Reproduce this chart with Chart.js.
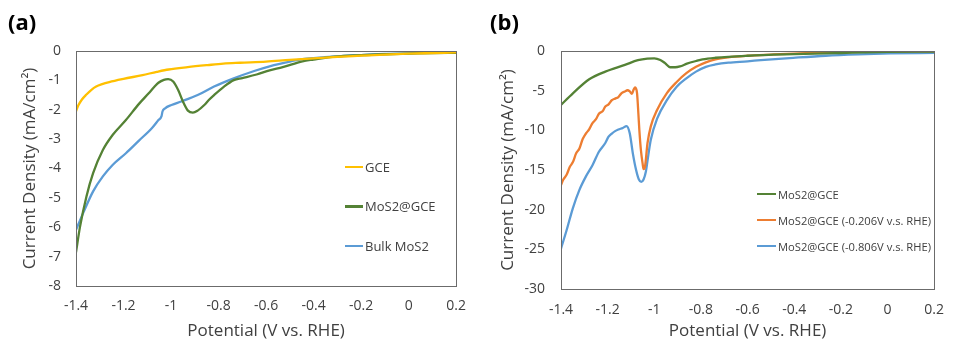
<!DOCTYPE html>
<html lang="en">
<head>
  <meta charset="UTF-8" />
  <title>LSV curves - MoS2@GCE</title>
  <script src="https://cdn.jsdelivr.net/npm/chart.js"></script>
  <style>
    body {
      margin: 0;
      background: #fff;
      font-family: 'Open Sans', sans-serif;
    }
    #wrap {
      position: relative;
      width: 957px;
      height: 340px;
    }
    .panel {
      position: absolute;
      top: 0;
      height: 340px;
    }
    .tag {
      position: absolute;
      top: 6px;
      font-weight: 700;
      font-size: 22px;
      color: #000;
    }
    .legend {
      position: absolute;
      color: #404040;
    }
    .legend .item {
      display: flex;
      align-items: center;
    }
    .legend .swatch {
      display: inline-block;
      height: 2.5px;
      margin-right: 2px;
    }
  </style>
</head>
<body>
  <div id="wrap">
    <div class="panel" style="left:0;width:478px">
      <canvas id="chartA" width="478" height="340"></canvas>
      <div class="tag" style="left:8px">(a)</div>
      <div class="legend" id="legA" style="left:345px;top:147px;font-size:13px"></div>
    </div>
    <div class="panel" style="left:477px;width:480px">
      <canvas id="chartB" width="480" height="340"></canvas>
      <div class="tag" style="left:13px">(b)</div>
      <div class="legend" id="legB" style="left:280px;top:181px;font-size:11.2px"></div>
    </div>
  </div>

  <script>
    // ---- ticks ----
    const potTicks = [-1.4, -1.2, -1, -0.8, -0.6, -0.4, -0.2, 0, 0.2];
    const curTicksA = [0, -1, -2, -3, -4, -5, -6, -7, -8];
    const curTicksB = [0, -5, -10, -15, -20, -25, -30];

    // ---- panel (a) ----
    const labelsA = ["GCE", "MoS2@GCE", "Bulk MoS2"];

    const gceV = [-1.4, -1.39, -1.375, -1.356, -1.335, -1.315, -1.29, -1.26, -1.2, -1.12, -1.06, -1.01, -0.93, -0.846, -0.78, -0.71, -0.6, -0.5, -0.4, -0.3, -0.2, -0.1, 0, 0.1, 0.2];
    const gceJ = [-2.05, -1.85, -1.65, -1.48, -1.32, -1.21, -1.13, -1.06, -0.95, -0.82, -0.71, -0.63, -0.55, -0.48, -0.43, -0.4, -0.36, -0.3, -0.25, -0.2, -0.16, -0.12, -0.09, -0.07, -0.05];

    const mosV = [-1.4, -1.383, -1.356, -1.328, -1.287, -1.246, -1.19, -1.135, -1.094, -1.07, -1.053, -1.03, -1.012, -0.991, -0.97, -0.95, -0.929, -0.908, -0.888, -0.86, -0.84, -0.819, -0.777, -0.736, -0.7, -0.64, -0.585, -0.53, -0.447, -0.4, -0.309, -0.2, -0.1, 0, 0.1, 0.2];
    const mosJ = [-6.85, -5.98, -4.95, -4.16, -3.37, -2.86, -2.35, -1.8, -1.44, -1.22, -1.08, -0.98, -0.96, -1.04, -1.33, -1.72, -2.03, -2.1, -2.03, -1.84, -1.66, -1.5, -1.21, -0.99, -0.92, -0.8, -0.66, -0.55, -0.35, -0.29, -0.19, -0.14, -0.11, -0.09, -0.07, -0.06];

    const bulkV = [-1.4, -1.37, -1.328, -1.287, -1.246, -1.19, -1.135, -1.08, -1.053, -1.04, -1.036, -1.025, -0.998, -0.957, -0.888, -0.819, -0.736, -0.65, -0.585, -0.5, -0.447, -0.4, -0.3, -0.2, -0.1, 0, 0.1, 0.2];
    const bulkJ = [-6.09, -5.52, -4.78, -4.27, -3.88, -3.48, -3.05, -2.62, -2.35, -2.22, -2.06, -1.95, -1.84, -1.72, -1.5, -1.21, -0.93, -0.68, -0.52, -0.36, -0.28, -0.24, -0.18, -0.14, -0.1, -0.08, -0.05, -0.04];

    // ---- panel (b) ----
    const labelsB = ["MoS2@GCE", "MoS2@GCE (-0.206V v.s. RHE)", "MoS2@GCE (-0.806V v.s. RHE)"];

    const mosBV = [-1.4, -1.349, -1.279, -1.21, -1.126, -1.07, -1.03, -1.0, -0.974, -0.955, -0.932, -0.91, -0.89, -0.86, -0.821, -0.793, -0.7375, -0.6, -0.4, -0.2, 0, 0.2];
    const mosBJ = [-6.8, -5.34, -3.57, -2.6, -1.75, -1.15, -0.95, -0.92, -1.13, -1.5, -2.05, -2.05, -1.95, -1.6, -1.26, -1.05, -0.85, -0.6, -0.4, -0.25, -0.12, -0.08];

    const v206V = [-1.4, -1.39, -1.376, -1.362, -1.349, -1.335, -1.321, -1.307, -1.293, -1.28, -1.265, -1.25, -1.2375, -1.222, -1.21, -1.195, -1.182, -1.168, -1.154, -1.14, -1.126, -1.115, -1.105, -1.096, -1.089, -1.082, -1.074, -1.068, -1.064, -1.057, -1.05, -1.046, -1.04, -1.029, -1.015, -0.9875, -0.946, -0.904, -0.8625, -0.821, -0.779, -0.7375, -0.683, -0.6, -0.5, -0.404, -0.3, -0.2, -0.126, 0, 0.2];
    const v206J = [-16.9, -16.2, -15.6, -14.6, -14.0, -12.9, -12.3, -11.1, -10.4, -9.9, -9.1, -8.6, -7.9, -7.6, -7.0, -6.7, -6.2, -6.0, -5.8, -5.3, -5.1, -4.95, -5.1, -5.4, -4.9, -4.6, -5.3, -8.0, -10.0, -12.6, -14.2, -14.9, -14.6, -11.6, -9.5, -7.4, -5.3, -3.9, -2.8, -2.0, -1.43, -1.05, -0.8, -0.6, -0.45, -0.32, -0.22, -0.15, -0.1, -0.07, -0.05];

    const v806V = [-1.4, -1.376, -1.349, -1.321, -1.293, -1.265, -1.2375, -1.21, -1.196, -1.182, -1.168, -1.154, -1.135, -1.119, -1.105, -1.092, -1.078, -1.066, -1.056, -1.046, -1.036, -1.029, -1.015, -0.9875, -0.946, -0.904, -0.8625, -0.821, -0.779, -0.7375, -0.682, -0.6, -0.543, -0.404, -0.265, -0.126, 0.0125, 0.2];
    const v806J = [-24.9, -22.6, -19.8, -17.5, -15.8, -14.4, -12.7, -11.6, -10.8, -10.4, -10.1, -9.9, -9.7, -9.46, -10.4, -12.9, -15.0, -16.2, -16.5, -16.2, -15.2, -13.8, -11.2, -8.5, -6.2, -4.5, -3.45, -2.6, -2.0, -1.7, -1.47, -1.3, -1.15, -0.86, -0.6, -0.43, -0.31, -0.24];

    const GREEN = "#548235";
    const YELLOW = "#FFC000";
    const BLUE = "#5B9BD5";
    const ORANGE = "#ED7D31";

    const FONT = "'Open Sans', sans-serif";
    const TEXT = "#404040";

    function pts(xs, ys) {
      return xs.map((x, i) => ({ x: x, y: ys[i] }));
    }

    function line(label, xs, ys, color) {
      return {
        label: label,
        data: pts(xs, ys),
        borderColor: color,
        backgroundColor: color,
        borderWidth: 2.3,
        pointRadius: 0,
        fill: false,
        cubicInterpolationMode: "monotone"
      };
    }

    // box around the plot area
    const frame = {
      id: "frame",
      afterDatasetsDraw(chart) {
        const a = chart.chartArea;
        const ctx = chart.ctx;
        ctx.save();
        ctx.strokeStyle = "#6b6b6b";
        ctx.lineWidth = 1;
        ctx.strokeRect(Math.round(a.left) + 0.5, Math.round(a.top) + 0.5,
          Math.round(a.right - a.left), Math.round(a.bottom - a.top));
        ctx.restore();
      }
    };

    function crearGrafico(id, datasets, yTicks, dims) {
      return new Chart(document.getElementById(id), {
        type: "line",
        data: { datasets: datasets },
        plugins: [frame],
        options: {
          responsive: false,
          animation: false,
          layout: { padding: { top: 51, right: dims.right, left: 0, bottom: 0 } },
          plugins: { legend: { display: false }, tooltip: { enabled: false } },
          scales: {
            x: {
              type: "linear",
              min: -1.4,
              max: 0.2,
              afterFit: s => { s.height = dims.xh; },
              afterBuildTicks: s => { s.ticks = potTicks.map(v => ({ value: v })); },
              grid: { display: false, drawTicks: false },
              border: { display: false },
              ticks: {
                padding: dims.xpad,
                maxRotation: 0,
                autoSkip: false,
                color: TEXT,
                font: { family: FONT, size: 14 },
                callback: v => String(v)
              },
              title: {
                display: true,
                text: "Potential (V vs. RHE)",
                color: TEXT,
                padding: { top: 0, bottom: 0 },
                font: { family: FONT, size: 17, lineHeight: 1 }
              }
            },
            y: {
              type: "linear",
              min: yTicks[yTicks.length - 1],
              max: 0,
              afterFit: s => { s.width = dims.yw; },
              afterBuildTicks: s => { s.ticks = yTicks.map(v => ({ value: v })); },
              grid: { display: false, drawTicks: false },
              border: { display: false },
              ticks: {
                padding: dims.ypad,
                color: TEXT,
                font: { family: FONT, size: 14 },
                callback: v => String(v)
              },
              title: {
                display: true,
                text: "Current Density (mA/cm\u00B2)",
                color: TEXT,
                padding: { top: dims.tpad, bottom: 0 },
                font: { family: FONT, size: 17 }
              }
            }
          }
        }
      });
    }

    function crearLeyenda(id, datasets, lineW, rowH) {
      const box = document.getElementById(id);
      datasets.forEach(ds => {
        const row = document.createElement("div");
        row.className = "item";
        row.style.height = rowH + "px";
        const sw = document.createElement("span");
        sw.className = "swatch";
        sw.style.width = lineW + "px";
        sw.style.background = ds.borderColor;
        row.appendChild(sw);
        const t = document.createElement("span");
        t.textContent = ds.label;
        row.appendChild(t);
        box.appendChild(row);
      });
    }

    const dsA = [
      line(labelsA[0], gceV, gceJ, YELLOW),
      line(labelsA[1], mosV, mosJ, GREEN),
      line(labelsA[2], bulkV, bulkJ, BLUE)
    ];
    const dsB = [
      line(labelsB[0], mosBV, mosBJ, GREEN),
      line(labelsB[1], v206V, v206J, ORANGE),
      line(labelsB[2], v806V, v806J, BLUE)
    ];

    crearGrafico("chartA", dsA, curTicksA, { right: 15, xh: 54, yw: 76, xpad: 12, ypad: 15, tpad: 20 });
    crearGrafico("chartB", dsB, curTicksB, { right: 12, xh: 51, yw: 84, xpad: 13, ypad: 16, tpad: 21 });

    crearLeyenda("legA", dsA, 18, 39.5);
    crearLeyenda("legB", dsB, 19, 26);
  </script>
</body>
</html>
